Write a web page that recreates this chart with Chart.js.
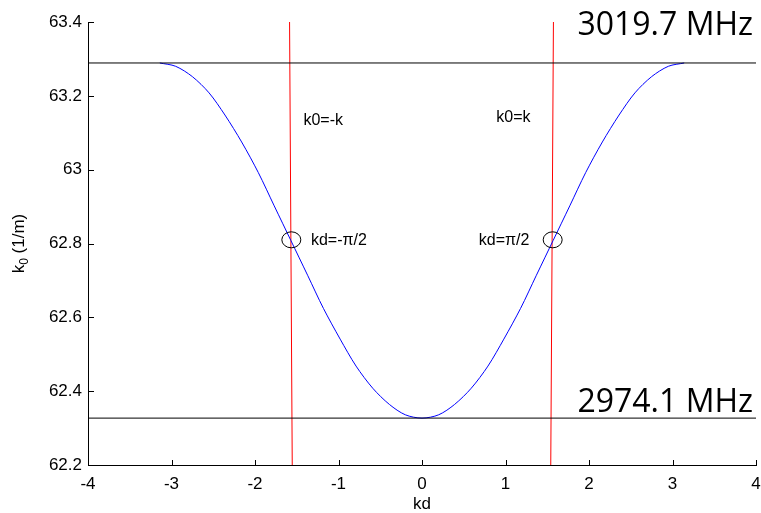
<!DOCTYPE html>
<html>
<head>
<meta charset="utf-8">
<script src="https://cdn.jsdelivr.net/npm/chart.js@4.4.0/dist/chart.umd.min.js"></script>
<style>
body { margin: 0; background: #fff; }
</style>
</head>
<body>
<canvas id="c" width="761" height="513"></canvas>
<script>
// dispersion curve: kd vs k0 (1/m)
var kd = [-3.14, -2.95, -2.75, -2.55, -2.36, -2.16, -1.96, -1.77, -1.57, -1.37, -1.18, -0.98, -0.79, -0.59, -0.39, -0.20, 0,
          0.20, 0.39, 0.59, 0.79, 0.98, 1.18, 1.37, 1.57, 1.77, 1.96, 2.16, 2.36, 2.55, 2.75, 2.95, 3.14];
var k0 = [63.289, 63.280, 63.252, 63.208, 63.148, 63.075, 62.992, 62.902, 62.808, 62.714, 62.624, 62.541, 62.468, 62.408, 62.364, 62.336, 62.327,
          62.336, 62.364, 62.408, 62.468, 62.541, 62.624, 62.714, 62.808, 62.902, 62.992, 63.075, 63.148, 63.208, 63.252, 63.280, 63.289];

// band edges
var edgeK0 = [63.289, 62.327];
var edgeText = ['3019.7 MHz', '2974.1 MHz'];

// light lines k0 = -k and k0 = k (top / bottom ends)
var lightLeftKd = [-1.586, -1.554];
var lightRightKd = [1.574, 1.542];
var lightK0 = [63.4, 62.2];

// marked crossings
var crossKd = [-1.565, 1.565];
var crossK0 = 62.81;
var noteText = ['k0=-k', 'k0=k', 'kd=-\u03c0/2', 'kd=\u03c0/2'];

var xMin = -4, xMax = 4, yMin = 62.2, yMax = 63.4;

var tickFont = { family: '"Liberation Sans", Arial, sans-serif', size: 17 };

function pts(xs, ys) {
    var out = [];
    for (var i = 0; i < xs.length; i++) out.push({ x: xs[i], y: ys[i] });
    return out;
}

var decor = {
    id: 'decor',
    afterDatasetsDraw: function (chart) {
        var ctx = chart.ctx, xs = chart.scales.x, ys = chart.scales.y, a = chart.chartArea;
        ctx.save();
        // ticks pointing inward, matlab style
        ctx.strokeStyle = '#000';
        ctx.lineWidth = 1;
        ctx.beginPath();
        xs.ticks.forEach(function (t) {
            var px = Math.round(xs.getPixelForValue(t.value)) + 0.5;
            ctx.moveTo(px, a.bottom);
            ctx.lineTo(px, a.bottom - 5);
        });
        ys.ticks.forEach(function (t) {
            var py = Math.round(ys.getPixelForValue(t.value)) + 0.5;
            ctx.moveTo(a.left, py);
            ctx.lineTo(a.left + 6, py);
        });
        ctx.stroke();

        // circles on the crossings
        crossKd.forEach(function (v) {
            ctx.beginPath();
            ctx.ellipse(xs.getPixelForValue(v), ys.getPixelForValue(crossK0), 9.5, 8, 0, 0, Math.PI * 2);
            ctx.stroke();
        });

        // notes
        ctx.fillStyle = '#000';
        ctx.font = '16px "Liberation Sans", Arial, sans-serif';
        ctx.textAlign = 'left';
        ctx.textBaseline = 'middle';
        ctx.fillText(noteText[0], xs.getPixelForValue(-1.42), ys.getPixelForValue(63.134));
        ctx.fillText(noteText[1], xs.getPixelForValue(0.89), ys.getPixelForValue(63.14));
        ctx.fillText(noteText[2], xs.getPixelForValue(-1.33), ys.getPixelForValue(62.808));
        ctx.fillText(noteText[3], xs.getPixelForValue(0.68), ys.getPixelForValue(62.808));

        // band edge frequencies
        ctx.font = '32px "Open Sans", sans-serif';
        ctx.textAlign = 'right';
        ctx.textBaseline = 'alphabetic';
        ctx.fillText(edgeText[0], a.right - 3, ys.getPixelForValue(edgeK0[0]) - 28);
        ctx.fillText(edgeText[1], a.right - 3, ys.getPixelForValue(edgeK0[1]) - 6);

        // axis titles
        ctx.font = '17px "Liberation Sans", Arial, sans-serif';
        ctx.textAlign = 'center';
        ctx.textBaseline = 'middle';
        ctx.fillText('kd', (a.left + a.right) / 2, a.bottom + 39);

        ctx.translate(a.left - 70, (a.top + a.bottom) / 2);
        ctx.rotate(-Math.PI / 2);
        ctx.textAlign = 'left';
        ctx.textBaseline = 'alphabetic';
        var big = '17px "Liberation Sans", Arial, sans-serif';
        var small = '12px "Liberation Sans", Arial, sans-serif';
        ctx.font = big;
        var w1 = ctx.measureText('k').width;
        var w3 = ctx.measureText(' (1/m)').width;
        ctx.font = small;
        var w2 = ctx.measureText('0').width;
        var x0 = -(w1 + w2 + w3) / 2;
        ctx.font = big;
        ctx.fillText('k', x0, 6);
        ctx.font = small;
        ctx.fillText('0', x0 + w1, 10);
        ctx.font = big;
        ctx.fillText(' (1/m)', x0 + w1 + w2, 6);
        ctx.restore();
    }
};

new Chart(document.getElementById('c'), {
    type: 'scatter',
    data: {
        datasets: [
            { data: pts([xMin, xMax], [edgeK0[0], edgeK0[0]]), showLine: true, borderColor: '#000', borderWidth: 1, pointRadius: 0 },
            { data: pts([xMin, xMax], [edgeK0[1], edgeK0[1]]), showLine: true, borderColor: '#000', borderWidth: 1, pointRadius: 0 },
            { data: pts(kd, k0), showLine: true, borderColor: '#0000ff', borderWidth: 1, pointRadius: 0, tension: 0.3 },
            { data: pts(lightLeftKd, lightK0), showLine: true, borderColor: '#ff0000', borderWidth: 1, pointRadius: 0 },
            { data: pts(lightRightKd, lightK0), showLine: true, borderColor: '#ff0000', borderWidth: 1, pointRadius: 0 }
        ]
    },
    options: {
        responsive: false,
        animation: false,
        layout: { padding: { top: 22, right: 5, left: 0, bottom: 0 } },
        plugins: { legend: { display: false }, tooltip: { enabled: false } },
        scales: {
            x: {
                type: 'linear',
                min: xMin,
                max: xMax,
                afterFit: function (s) { s.height = 48; s.paddingLeft = 0; s.paddingRight = 0; },
                grid: { display: false, drawTicks: false },
                border: { display: true, color: '#000', width: 1 },
                ticks: { stepSize: 1, color: '#000', font: tickFont, padding: 9, maxRotation: 0 }
            },
            y: {
                type: 'linear',
                min: yMin,
                max: yMax,
                afterFit: function (s) { s.width = 88; s.paddingTop = 0; s.paddingBottom = 0; },
                grid: { display: false, drawTicks: false },
                border: { display: true, color: '#000', width: 1 },
                ticks: {
                    stepSize: 0.2, color: '#000', font: tickFont, padding: 6,
                    callback: function (v) { return String(Number(v.toFixed(1))); }
                }
            }
        }
    },
    plugins: [decor]
});
</script>
</body>
</html>
